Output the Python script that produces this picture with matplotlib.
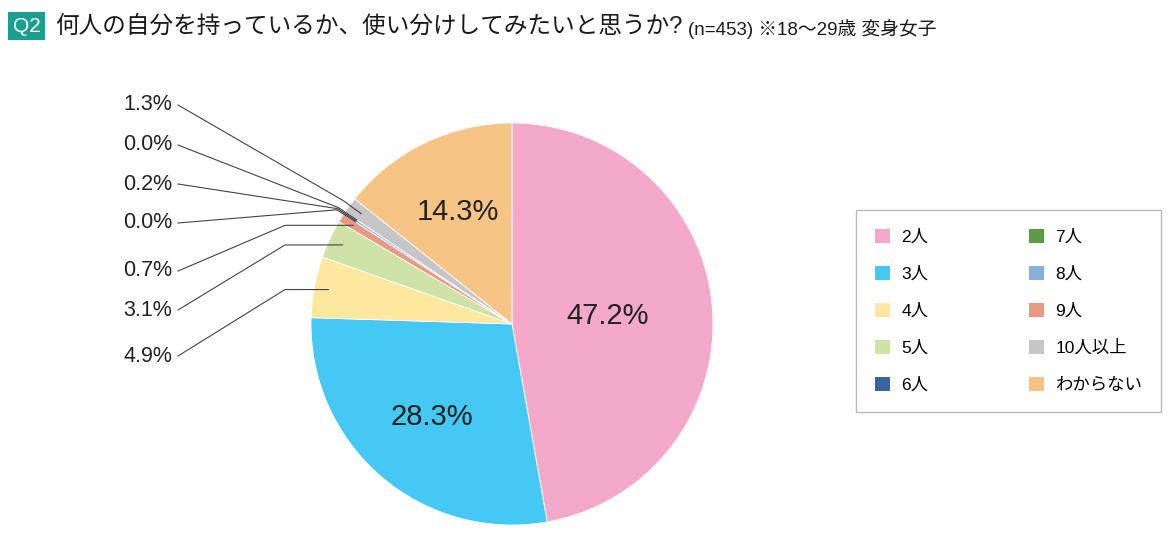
import matplotlib.pyplot as plt
from matplotlib.patches import Patch
import numpy as np

# data
categories = ['2人', '3人', '4人', '5人', '6人', '7人', '8人', '9人', '10人以上', 'わからない']
values = [47.2, 28.3, 4.9, 3.1, 0.0, 0.0, 0.2, 0.7, 1.3, 14.3]
colors = ['#F4A9CB', '#45C8F4', '#FDE8A0', '#CFE3A8', '#3C63A1',
          '#5E9A45', '#86B0D6', '#E89A84', '#C6C6C8', '#F6C586']
# order in which wedges sit on the pie (clockwise from 12 o'clock)
pie_order = ['2人', '3人', '4人', '5人', '9人', '6人', '8人', '7人', '10人以上', 'わからない']

title = '何人の自分を持っているか、使い分けしてみたいと思うか?'
subtitle = '(n=453) ※18〜29歳 変身女子'

FONT = ['Liberation Sans', 'Noto Sans CJK JP']
plt.rcParams['font.family'] = FONT


def main():
    W, H = 1171, 540
    fig = plt.figure(figsize=(W / 100, H / 100), dpi=100)
    ax = fig.add_axes([0, 0, 1, 1])

    cx, cy, r = 512, H - 324, 201
    idx = [categories.index(c) for c in pie_order]
    vals = [values[i] for i in idx]
    cols = [colors[i] for i in idx]
    wedges, _ = ax.pie(vals, colors=cols, startangle=90, counterclock=False,
                       center=(cx, cy), radius=r, frame=True,
                       wedgeprops=dict(linewidth=0.6, edgecolor='white'))
    ax.set_xlim(0, W)
    ax.set_ylim(0, H)
    ax.set_aspect('equal')
    ax.axis('off')

    # big labels inside
    inner = {'2人': 0.48, '3人': 0.61, 'わからない': 0.62}
    # small labels on the left (label y in pixels)
    outer_y = {'4人': 356, '5人': 310, '9人': 271, '6人': 223,
               '8人': 184, '7人': 145, '10人以上': 105}
    for w, cat, v in zip(wedges, pie_order, vals):
        mid = np.deg2rad((w.theta1 + w.theta2) / 2)
        txt = f'{v:.1f}%'
        if cat in inner:
            d = inner[cat] * r
            ax.text(cx + d * np.cos(mid), cy + d * np.sin(mid), txt,
                    fontsize=21, ha='center', va='center', color='#222222')
        elif cat in outer_y:
            ty = H - outer_y[cat]
            ax.text(172, ty, txt, fontsize=15.5, ha='right', va='center',
                    color='#222222')
            ax_pt = (cx + 0.93 * r * np.cos(mid), cy + 0.93 * r * np.sin(mid))
            if cat in ('4人', '5人', '9人'):
                xs = [178, 285, ax_pt[0]]
                ys = [ty, ax_pt[1], ax_pt[1]]
            else:
                el = (cx + 1.04 * r * np.cos(mid), cy + 1.04 * r * np.sin(mid))
                xs = [178, el[0], ax_pt[0]]
                ys = [ty, el[1], ax_pt[1]]
            ax.plot(xs, ys, color='#444444', lw=0.8)

    # title
    fig.text(13 / W, 1 - 26 / H, 'Q2', fontsize=15, color='white',
             va='center', ha='left',
             bbox=dict(boxstyle='square,pad=0.22', fc='#1A9E8F', ec='none'))
    fig.text(55 / W, 1 - 27 / H, title, fontsize=17, va='center', ha='left',
             color='#1a1a1a')
    fig.text(688 / W, 1 - 29 / H, subtitle, fontsize=13.5, va='center',
             ha='left', color='#1a1a1a')

    handles = [Patch(facecolor=c, edgecolor='none') for c in colors]
    leg = fig.legend(handles, categories, ncol=2, loc='upper left',
                     bbox_to_anchor=(856 / W, 1 - 210 / H),
                     fontsize=12.5, frameon=True, fancybox=False,
                     handlelength=0.88, handleheight=0.88, handletextpad=0.63,
                     labelspacing=1.2, columnspacing=5.8, borderpad=1.1,
                     borderaxespad=0)
    leg.get_frame().set_edgecolor('#AAAAAA')
    leg.get_frame().set_linewidth(1.0)

    fig.savefig('out.png', dpi=100)


if __name__ == "__main__":
    main()
